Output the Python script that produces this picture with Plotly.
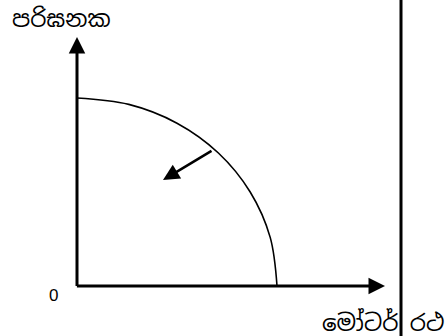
import plotly.graph_objects as go

# Production possibility curve (1 unit = 20 px)
curve_cars = [10.0, 9.66, 8.66, 7.07, 5.0, 2.59, 0.0]
curve_computers = [0.0, 2.43, 4.7, 6.65, 8.14, 9.08, 9.4]

# shift arrow (inward, towards origin)
shift_from = (6.8, 6.8)
shift_to = (4.3, 5.3)

# axis ends
x_axis_end = 15.4
y_axis_end = 12.45
border_x = 16.2

y_label = 'පරිඝනක'
x_label = 'මෝටර් රථ'
origin_label = '0'

SINHALA_FONT = "Iskoola Pota, Noto Sans Sinhala, Noto Serif Sinhala, Arial, sans-serif"

fig = go.Figure()
fig.add_trace(go.Scatter(
    x=curve_cars, y=curve_computers,
    mode='lines',
    line=dict(color='black', width=1.6, shape='spline', smoothing=1.0),
    hoverinfo='skip',
    showlegend=False,
))

# axes drawn as arrows
fig.add_annotation(x=x_axis_end, y=0, ax=-0.08, ay=0, xref='x', yref='y',
                   axref='x', ayref='y', showarrow=True, arrowhead=2,
                   arrowsize=1.1, arrowwidth=3, arrowcolor='black', text='')
fig.add_annotation(x=0, y=y_axis_end, ax=0, ay=-0.08, xref='x', yref='y',
                   axref='x', ayref='y', showarrow=True, arrowhead=2,
                   arrowsize=1.1, arrowwidth=3, arrowcolor='black', text='')
fig.add_annotation(x=shift_to[0], y=shift_to[1], ax=shift_from[0], ay=shift_from[1],
                   xref='x', yref='y', axref='x', ayref='y', showarrow=True,
                   arrowhead=2, arrowsize=1.3, arrowwidth=2.5, arrowcolor='black', text='')

# table border line on the right
fig.add_shape(type='line', x0=border_x, x1=border_x, y0=0, y1=1,
              xref='x', yref='paper', line=dict(color='black', width=3))

fig.add_annotation(x=-0.8, y=13.35, xref='x', yref='y', text=y_label, showarrow=False,
                   font=dict(family=SINHALA_FONT, size=23, color='black'))
fig.add_annotation(x=-1.175, y=-0.45, xref='x', yref='y', text=origin_label, showarrow=False,
                   font=dict(family="Liberation Sans, Arial, sans-serif", size=17, color='black'))
fig.add_annotation(x=12.15, y=-1.8, xref='x', yref='y', text=x_label, showarrow=False,
                   xanchor='left',
                   font=dict(family=SINHALA_FONT, size=23, color='black'))

fig.update_xaxes(range=[-3.85, 18.45], visible=False, fixedrange=True)
fig.update_yaxes(range=[-2.5, 14.3], visible=False, fixedrange=True)
fig.update_layout(
    width=446, height=336,
    margin=go.layout.Margin(l=0, r=0, t=0, b=0, pad=0),
    paper_bgcolor='white',
    plot_bgcolor='white',
    showlegend=False,
)

# drop the browser's default body margin so the chart sits at the page corner
fig.write_html("out.html", config={'displayModeBar': False},
               post_script="document.body.style.margin='0';")
